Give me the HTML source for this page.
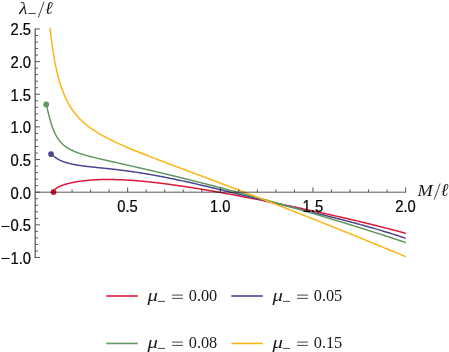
<!DOCTYPE html>
<html><head><meta charset="utf-8"><title>plot</title>
<style>
html,body{margin:0;padding:0;background:#fff;}
svg{display:block}
text{fill:#1a1a1a;}
.tk{font-family:"Liberation Sans",sans-serif;font-size:16px;fill:#000;stroke:#000;stroke-width:0.22px;}
.mn{font-family:"Liberation Serif",serif;font-size:19px;stroke:none;}
.mi{font-family:"Liberation Serif",serif;font-style:italic;}
.rm{font-family:"Liberation Serif",serif;font-size:16.3px;}
</style></head><body>
<svg width="449" height="352" viewBox="0 0 449 352">
<defs><clipPath id="cp"><rect x="0" y="27.85" width="405.75" height="231"/></clipPath></defs>
<rect width="449" height="352" fill="#fff"/>
<path d="M53.50,192.10 L53.50,191.99 L53.51,191.89 L53.52,191.78 L53.54,191.67 L53.56,191.57 L53.58,191.46 L53.61,191.35 L53.64,191.25 L53.68,191.14 L53.72,191.03 L53.77,190.92 L53.82,190.82 L53.88,190.71 L53.94,190.60 L54.00,190.49 L54.07,190.39 L54.14,190.28 L54.22,190.17 L54.30,190.06 L54.39,189.96 L54.48,189.85 L54.58,189.74 L54.68,189.63 L54.78,189.53 L54.89,189.42 L55.01,189.31 L55.12,189.20 L55.25,189.09 L55.37,188.98 L55.50,188.88 L55.64,188.77 L55.78,188.66 L55.92,188.55 L56.07,188.44 L56.23,188.34 L56.39,188.23 L56.55,188.12 L56.72,188.01 L56.89,187.90 L57.06,187.80 L57.24,187.69 L57.43,187.58 L57.62,187.47 L57.81,187.36 L58.01,187.26 L58.21,187.15 L58.42,187.04 L58.63,186.93 L58.85,186.83 L59.07,186.72 L59.29,186.61 L59.52,186.51 L59.75,186.40 L59.99,186.30 L60.24,186.19 L60.48,186.08 L60.73,185.98 L60.99,185.87 L61.25,185.77 L61.52,185.67 L61.79,185.56 L62.06,185.46 L62.34,185.35 L62.62,185.25 L62.91,185.15 L63.20,185.05 L63.50,184.94 L63.80,184.84 L64.10,184.74 L64.41,184.64 L64.73,184.54 L65.04,184.44 L65.37,184.34 L65.69,184.24 L66.03,184.15 L66.36,184.05 L66.70,183.95 L67.05,183.86 L67.40,183.76 L67.75,183.67 L68.11,183.57 L68.47,183.48 L68.84,183.38 L69.21,183.29 L69.59,183.20 L69.97,183.11 L70.35,183.02 L70.74,182.93 L71.14,182.84 L71.54,182.75 L71.94,182.67 L72.35,182.58 L72.76,182.50 L73.18,182.41 L73.60,182.33 L74.02,182.24 L74.45,182.16 L74.89,182.08 L75.32,182.00 L75.77,181.92 L76.22,181.84 L76.67,181.77 L77.12,181.69 L77.58,181.62 L78.05,181.54 L78.52,181.47 L78.99,181.40 L79.47,181.33 L79.96,181.26 L80.44,181.19 L80.94,181.12 L81.43,181.06 L81.93,180.99 L82.44,180.93 L82.95,180.86 L83.46,180.80 L83.98,180.74 L84.51,180.68 L85.03,180.63 L85.57,180.57 L86.10,180.51 L86.64,180.46 L87.19,180.41 L87.74,180.36 L88.29,180.31 L88.85,180.26 L89.42,180.21 L89.98,180.17 L90.56,180.12 L91.13,180.08 L91.71,180.04 L92.30,180.00 L92.89,179.96 L93.48,179.92 L94.08,179.89 L94.69,179.85 L95.29,179.82 L95.91,179.79 L96.52,179.76 L97.14,179.73 L97.77,179.71 L98.40,179.68 L99.03,179.66 L99.67,179.64 L100.32,179.62 L100.97,179.60 L101.62,179.58 L102.27,179.57 L102.94,179.56 L103.60,179.54 L104.27,179.53 L104.95,179.53 L105.63,179.52 L106.31,179.51 L107.00,179.51 L107.69,179.51 L108.39,179.51 L109.09,179.51 L109.79,179.52 L110.50,179.52 L111.22,179.53 L111.94,179.54 L112.66,179.55 L113.39,179.56 L114.12,179.58 L114.86,179.59 L115.60,179.61 L116.35,179.63 L117.10,179.65 L117.85,179.68 L118.61,179.70 L119.38,179.73 L120.14,179.76 L120.92,179.79 L121.69,179.82 L122.48,179.86 L123.26,179.90 L124.05,179.94 L124.85,179.98 L125.65,180.02 L126.45,180.06 L127.26,180.11 L128.07,180.16 L128.89,180.21 L129.71,180.26 L130.54,180.31 L131.37,180.37 L132.20,180.43 L133.04,180.49 L133.89,180.55 L134.73,180.61 L135.59,180.68 L136.44,180.75 L137.31,180.81 L138.17,180.89 L139.04,180.96 L139.92,181.03 L140.80,181.11 L141.68,181.19 L142.57,181.27 L143.46,181.36 L144.36,181.44 L145.26,181.53 L146.17,181.62 L147.08,181.71 L147.99,181.80 L148.91,181.89 L149.84,181.99 L150.77,182.09 L151.70,182.19 L152.64,182.29 L153.58,182.40 L154.53,182.50 L155.48,182.61 L156.43,182.72 L157.39,182.84 L158.36,182.95 L159.32,183.07 L160.30,183.18 L161.27,183.30 L162.26,183.43 L163.24,183.55 L164.23,183.68 L165.23,183.80 L166.23,183.93 L167.23,184.06 L168.24,184.20 L169.26,184.33 L170.27,184.47 L171.29,184.61 L172.32,184.75 L173.35,184.89 L174.39,185.04 L175.43,185.18 L176.47,185.33 L177.52,185.48 L178.57,185.64 L179.63,185.79 L180.69,185.95 L181.76,186.10 L182.83,186.26 L183.91,186.43 L184.99,186.59 L186.07,186.75 L187.16,186.92 L188.25,187.09 L189.35,187.26 L190.45,187.43 L191.56,187.61 L192.67,187.78 L193.79,187.96 L194.91,188.14 L196.03,188.32 L197.16,188.51 L198.29,188.69 L199.43,188.88 L200.57,189.07 L201.72,189.26 L202.87,189.45 L204.03,189.64 L205.19,189.84 L206.35,190.04 L207.52,190.24 L208.70,190.44 L209.87,190.64 L211.06,190.84 L212.24,191.05 L213.43,191.26 L214.63,191.47 L215.83,191.68 L217.03,191.89 L218.24,192.11 L219.46,192.32 L220.68,192.54 L221.90,192.76 L223.12,192.98 L224.36,193.20 L225.59,193.43 L226.83,193.65 L228.08,193.88 L229.33,194.11 L230.58,194.34 L231.84,194.57 L233.10,194.81 L234.37,195.04 L235.64,195.28 L236.91,195.52 L238.20,195.76 L239.48,196.00 L240.77,196.25 L242.06,196.49 L243.36,196.74 L244.66,196.99 L245.97,197.24 L247.28,197.49 L248.60,197.75 L249.92,198.00 L251.24,198.26 L252.57,198.52 L253.91,198.78 L255.25,199.04 L256.59,199.30 L257.94,199.57 L259.29,199.83 L260.64,200.10 L262.00,200.37 L263.37,200.64 L264.74,200.91 L266.11,201.19 L267.49,201.46 L268.87,201.74 L270.26,202.02 L271.65,202.30 L273.05,202.58 L274.45,202.87 L275.85,203.15 L277.26,203.44 L278.68,203.73 L280.10,204.02 L281.52,204.31 L282.95,204.61 L284.38,204.90 L285.81,205.20 L287.25,205.50 L288.70,205.80 L290.15,206.10 L291.60,206.40 L293.06,206.71 L294.53,207.02 L295.99,207.32 L297.46,207.63 L298.94,207.95 L300.42,208.26 L301.91,208.58 L303.40,208.89 L304.89,209.21 L306.39,209.53 L307.89,209.86 L309.40,210.18 L310.91,210.51 L312.43,210.84 L313.95,211.17 L315.47,211.50 L317.00,211.83 L318.54,212.17 L320.08,212.51 L321.62,212.85 L323.17,213.19 L324.72,213.53 L326.28,213.88 L327.84,214.23 L329.40,214.58 L330.97,214.93 L332.55,215.28 L334.13,215.64 L335.71,216.00 L337.30,216.36 L338.89,216.72 L340.49,217.09 L342.09,217.45 L343.69,217.82 L345.30,218.19 L346.92,218.57 L348.53,218.95 L350.16,219.32 L351.79,219.71 L353.42,220.09 L355.05,220.48 L356.70,220.87 L358.34,221.26 L359.99,221.65 L361.65,222.05 L363.30,222.45 L364.97,222.85 L366.64,223.26 L368.31,223.67 L369.99,224.08 L371.67,224.49 L373.35,224.91 L375.04,225.33 L376.74,225.75 L378.44,226.18 L380.14,226.61 L381.85,227.04 L383.56,227.48 L385.28,227.92 L387.00,228.36 L388.72,228.80 L390.45,229.25 L392.19,229.71 L393.93,230.16 L395.67,230.62 L397.42,231.09 L399.17,231.55 L400.93,232.03 L402.69,232.50 L404.46,232.98 L406.23,233.46 L408.00,233.95" fill="none" stroke="#DE1A38" stroke-width="1.5" stroke-linejoin="round" clip-path="url(#cp)"/>
<circle cx="53.5" cy="192.1" r="2.9" fill="#DE1A38"/>
<path d="M51.05,154.05 L51.05,154.01 L51.06,153.97 L51.07,153.95 L51.09,153.93 L51.11,153.92 L51.13,153.92 L51.16,153.93 L51.19,153.94 L51.23,153.96 L51.27,153.99 L51.32,154.03 L51.37,154.07 L51.43,154.12 L51.49,154.17 L51.55,154.23 L51.62,154.29 L51.70,154.36 L51.78,154.44 L51.86,154.52 L51.95,154.60 L52.04,154.69 L52.14,154.78 L52.24,154.88 L52.34,154.98 L52.45,155.09 L52.57,155.19 L52.68,155.30 L52.81,155.42 L52.94,155.53 L53.07,155.65 L53.20,155.77 L53.35,155.90 L53.49,156.02 L53.64,156.15 L53.80,156.28 L53.96,156.41 L54.12,156.54 L54.29,156.68 L54.46,156.81 L54.64,156.95 L54.82,157.09 L55.01,157.23 L55.20,157.37 L55.39,157.51 L55.59,157.65 L55.79,157.79 L56.00,157.93 L56.22,158.07 L56.43,158.21 L56.66,158.36 L56.88,158.50 L57.11,158.64 L57.35,158.78 L57.59,158.92 L57.83,159.07 L58.08,159.21 L58.33,159.35 L58.59,159.49 L58.85,159.63 L59.12,159.77 L59.39,159.90 L59.67,160.04 L59.95,160.18 L60.23,160.31 L60.52,160.45 L60.82,160.58 L61.11,160.71 L61.42,160.85 L61.72,160.98 L62.04,161.11 L62.35,161.23 L62.67,161.36 L63.00,161.49 L63.33,161.61 L63.66,161.74 L64.00,161.86 L64.34,161.98 L64.69,162.10 L65.04,162.22 L65.40,162.33 L65.76,162.45 L66.13,162.56 L66.50,162.68 L66.87,162.79 L67.25,162.90 L67.63,163.01 L68.02,163.11 L68.41,163.22 L68.81,163.32 L69.21,163.43 L69.62,163.53 L70.03,163.63 L70.44,163.73 L70.86,163.83 L71.29,163.92 L71.71,164.02 L72.15,164.11 L72.58,164.21 L73.03,164.30 L73.47,164.39 L73.92,164.48 L74.38,164.56 L74.84,164.65 L75.30,164.74 L75.77,164.82 L76.24,164.90 L76.72,164.99 L77.20,165.07 L77.69,165.15 L78.18,165.23 L78.68,165.30 L79.18,165.38 L79.68,165.46 L80.19,165.53 L80.70,165.61 L81.22,165.68 L81.74,165.75 L82.27,165.82 L82.80,165.90 L83.34,165.97 L83.88,166.04 L84.42,166.11 L84.97,166.18 L85.53,166.24 L86.08,166.31 L86.65,166.38 L87.21,166.45 L87.79,166.51 L88.36,166.58 L88.94,166.64 L89.53,166.71 L90.12,166.78 L90.71,166.84 L91.31,166.91 L91.91,166.97 L92.52,167.04 L93.13,167.10 L93.75,167.17 L94.37,167.23 L95.00,167.30 L95.63,167.36 L96.26,167.43 L96.90,167.50 L97.54,167.56 L98.19,167.63 L98.84,167.70 L99.50,167.76 L100.16,167.83 L100.83,167.90 L101.50,167.97 L102.17,168.04 L102.85,168.11 L103.54,168.18 L104.22,168.25 L104.92,168.32 L105.61,168.40 L106.32,168.47 L107.02,168.55 L107.73,168.62 L108.45,168.70 L109.17,168.78 L109.89,168.85 L110.62,168.93 L111.35,169.02 L112.09,169.10 L112.83,169.18 L113.58,169.26 L114.33,169.35 L115.09,169.44 L115.85,169.52 L116.61,169.61 L117.38,169.71 L118.15,169.80 L118.93,169.89 L119.72,169.99 L120.50,170.08 L121.29,170.18 L122.09,170.28 L122.89,170.38 L123.70,170.49 L124.50,170.59 L125.32,170.70 L126.14,170.81 L126.96,170.92 L127.79,171.03 L128.62,171.14 L129.46,171.26 L130.30,171.37 L131.14,171.49 L131.99,171.61 L132.85,171.74 L133.70,171.86 L134.57,171.99 L135.43,172.12 L136.31,172.25 L137.18,172.38 L138.06,172.51 L138.95,172.65 L139.84,172.79 L140.74,172.93 L141.63,173.07 L142.54,173.22 L143.45,173.37 L144.36,173.52 L145.28,173.67 L146.20,173.82 L147.12,173.98 L148.05,174.14 L148.99,174.30 L149.93,174.46 L150.87,174.63 L151.82,174.79 L152.77,174.96 L153.73,175.13 L154.69,175.31 L155.66,175.48 L156.63,175.66 L157.61,175.84 L158.58,176.03 L159.57,176.21 L160.56,176.40 L161.55,176.59 L162.55,176.78 L163.55,176.98 L164.56,177.17 L165.57,177.37 L166.58,177.58 L167.61,177.78 L168.63,177.98 L169.66,178.19 L170.69,178.40 L171.73,178.62 L172.77,178.83 L173.82,179.05 L174.87,179.27 L175.93,179.49 L176.99,179.71 L178.05,179.94 L179.12,180.17 L180.20,180.40 L181.28,180.63 L182.36,180.87 L183.45,181.11 L184.54,181.34 L185.63,181.59 L186.73,181.83 L187.84,182.08 L188.95,182.32 L190.06,182.57 L191.18,182.83 L192.31,183.08 L193.43,183.34 L194.57,183.59 L195.70,183.85 L196.84,184.12 L197.99,184.38 L199.14,184.65 L200.30,184.91 L201.45,185.18 L202.62,185.46 L203.79,185.73 L204.96,186.01 L206.14,186.28 L207.32,186.56 L208.50,186.84 L209.69,187.13 L210.89,187.41 L212.09,187.70 L213.29,187.99 L214.50,188.28 L215.71,188.57 L216.93,188.86 L218.15,189.15 L219.38,189.45 L220.61,189.75 L221.85,190.05 L223.09,190.35 L224.33,190.65 L225.58,190.96 L226.83,191.26 L228.09,191.57 L229.35,191.88 L230.62,192.19 L231.89,192.50 L233.17,192.81 L234.45,193.13 L235.73,193.44 L237.02,193.76 L238.32,194.08 L239.61,194.40 L240.92,194.72 L242.22,195.04 L243.53,195.36 L244.85,195.68 L246.17,196.01 L247.50,196.34 L248.83,196.66 L250.16,196.99 L251.50,197.32 L252.84,197.66 L254.19,197.99 L255.54,198.32 L256.90,198.66 L258.26,198.99 L259.62,199.33 L260.99,199.67 L262.37,200.00 L263.75,200.34 L265.13,200.68 L266.52,201.03 L267.91,201.37 L269.31,201.71 L270.71,202.06 L272.12,202.40 L273.53,202.75 L274.94,203.10 L276.36,203.45 L277.78,203.80 L279.21,204.15 L280.64,204.50 L282.08,204.85 L283.52,205.21 L284.97,205.56 L286.42,205.92 L287.88,206.27 L289.34,206.63 L290.80,206.99 L292.27,207.35 L293.74,207.71 L295.22,208.07 L296.70,208.44 L298.19,208.80 L299.68,209.17 L301.17,209.54 L302.67,209.90 L304.18,210.27 L305.69,210.65 L307.20,211.02 L308.72,211.39 L310.24,211.77 L311.77,212.14 L313.30,212.52 L314.83,212.90 L316.38,213.28 L317.92,213.66 L319.47,214.05 L321.02,214.43 L322.58,214.82 L324.14,215.21 L325.71,215.60 L327.28,216.00 L328.86,216.39 L330.44,216.79 L332.03,217.19 L333.61,217.59 L335.21,218.00 L336.81,218.40 L338.41,218.81 L340.02,219.22 L341.63,219.64 L343.25,220.05 L344.87,220.47 L346.49,220.90 L348.12,221.32 L349.76,221.75 L351.40,222.18 L353.04,222.62 L354.69,223.06 L356.34,223.50 L358.00,223.95 L359.66,224.40 L361.33,224.85 L363.00,225.31 L364.67,225.77 L366.35,226.23 L368.03,226.70 L369.72,227.18 L371.42,227.66 L373.11,228.14 L374.81,228.63 L376.52,229.13 L378.23,229.63 L379.95,230.14 L381.67,230.65 L383.39,231.16 L385.12,231.69 L386.85,232.22 L388.59,232.75 L390.33,233.30 L392.08,233.85 L393.83,234.40 L395.59,234.97 L397.35,235.54 L399.11,236.12 L400.88,236.70 L402.65,237.30 L404.43,237.90 L406.21,238.51 L408.00,239.13" fill="none" stroke="#4A468D" stroke-width="1.5" stroke-linejoin="round" clip-path="url(#cp)"/>
<circle cx="51.05" cy="154.05" r="2.9" fill="#4A468D"/>
<path d="M46.05,103.93 L46.26,104.67 L46.48,105.46 L46.69,106.29 L46.91,107.16 L47.13,108.06 L47.35,108.97 L47.58,109.90 L47.80,110.84 L48.03,111.79 L48.26,112.74 L48.49,113.69 L48.73,114.63 L48.96,115.57 L49.20,116.50 L49.44,117.43 L49.69,118.34 L49.93,119.24 L50.18,120.12 L50.43,121.00 L50.68,121.85 L50.93,122.70 L51.18,123.52 L51.44,124.33 L51.70,125.12 L51.96,125.90 L52.23,126.66 L52.49,127.40 L52.76,128.13 L53.03,128.84 L53.30,129.53 L53.57,130.21 L53.85,130.86 L54.13,131.51 L54.41,132.14 L54.69,132.75 L54.97,133.35 L55.26,133.93 L55.55,134.49 L55.84,135.05 L56.13,135.59 L56.42,136.11 L56.72,136.62 L57.02,137.12 L57.32,137.61 L57.62,138.08 L57.92,138.54 L58.23,138.99 L58.54,139.43 L58.85,139.86 L59.16,140.27 L59.48,140.68 L59.79,141.08 L60.11,141.46 L60.43,141.84 L60.76,142.20 L61.08,142.56 L61.41,142.91 L61.74,143.25 L62.07,143.58 L62.40,143.91 L62.74,144.23 L63.08,144.53 L63.42,144.84 L63.76,145.13 L64.10,145.42 L64.45,145.70 L64.79,145.98 L65.14,146.25 L65.50,146.51 L65.85,146.77 L66.21,147.02 L66.56,147.27 L66.92,147.51 L67.29,147.74 L67.65,147.98 L68.02,148.20 L68.39,148.43 L68.76,148.64 L69.13,148.86 L69.50,149.07 L69.88,149.27 L70.26,149.48 L70.64,149.67 L71.02,149.87 L71.41,150.06 L71.79,150.25 L72.18,150.44 L72.57,150.62 L72.97,150.80 L73.36,150.97 L73.76,151.15 L74.16,151.32 L74.56,151.49 L74.96,151.65 L75.37,151.82 L75.78,151.98 L76.19,152.14 L76.60,152.30 L77.01,152.45 L77.43,152.61 L77.85,152.76 L78.27,152.91 L78.69,153.06 L79.11,153.21 L79.54,153.35 L79.97,153.50 L80.40,153.64 L80.83,153.78 L81.27,153.92 L81.70,154.06 L82.14,154.20 L82.58,154.33 L83.02,154.47 L83.47,154.60 L83.92,154.74 L84.36,154.87 L84.82,155.00 L85.27,155.13 L85.72,155.26 L86.18,155.39 L86.64,155.52 L87.10,155.65 L87.56,155.77 L88.03,155.90 L88.50,156.03 L88.97,156.15 L89.44,156.28 L89.91,156.40 L90.39,156.53 L90.87,156.65 L91.35,156.78 L91.83,156.90 L92.31,157.02 L92.80,157.14 L93.29,157.27 L93.78,157.39 L94.27,157.51 L94.76,157.63 L95.26,157.76 L95.76,157.88 L96.26,158.00 L96.76,158.12 L97.26,158.24 L97.77,158.36 L98.28,158.49 L98.79,158.61 L99.30,158.73 L99.82,158.85 L100.34,158.97 L100.85,159.10 L101.38,159.22 L101.90,159.34 L102.42,159.46 L102.95,159.58 L103.48,159.71 L104.01,159.83 L104.55,159.95 L105.08,160.08 L105.62,160.20 L106.16,160.32 L106.70,160.45 L107.24,160.57 L107.79,160.70 L108.34,160.82 L108.89,160.95 L109.44,161.07 L109.99,161.20 L110.55,161.32 L111.11,161.45 L111.67,161.58 L112.23,161.70 L112.80,161.83 L113.36,161.96 L113.93,162.09 L114.50,162.21 L115.07,162.34 L115.65,162.47 L116.23,162.60 L116.80,162.73 L117.39,162.86 L117.97,162.99 L118.55,163.13 L119.14,163.26 L119.73,163.39 L120.32,163.52 L120.91,163.66 L121.51,163.79 L122.11,163.93 L122.71,164.06 L123.31,164.20 L123.91,164.33 L124.52,164.47 L125.13,164.61 L125.73,164.74 L126.35,164.88 L126.96,165.02 L127.58,165.16 L128.19,165.30 L128.81,165.44 L129.44,165.58 L130.06,165.72 L130.69,165.86 L131.32,166.01 L131.95,166.15 L132.58,166.29 L133.21,166.44 L133.85,166.58 L134.49,166.73 L135.13,166.87 L135.77,167.02 L136.42,167.17 L137.06,167.31 L137.71,167.46 L138.36,167.61 L139.02,167.76 L139.67,167.91 L140.33,168.06 L140.99,168.21 L141.65,168.37 L142.31,168.52 L142.98,168.67 L143.65,168.83 L144.32,168.98 L144.99,169.14 L145.66,169.29 L146.34,169.45 L147.02,169.60 L147.70,169.76 L148.38,169.92 L149.06,170.08 L149.75,170.24 L150.44,170.40 L151.13,170.56 L151.82,170.72 L152.51,170.89 L153.21,171.05 L153.91,171.21 L154.61,171.38 L155.31,171.54 L156.02,171.71 L156.72,171.88 L157.43,172.04 L158.14,172.21 L158.86,172.38 L159.57,172.55 L160.29,172.72 L161.01,172.89 L161.73,173.06 L162.45,173.23 L163.18,173.41 L163.90,173.58 L164.63,173.75 L165.37,173.93 L166.10,174.10 L166.83,174.28 L167.57,174.46 L168.31,174.64 L169.05,174.81 L169.80,174.99 L170.54,175.17 L171.29,175.35 L172.04,175.54 L172.79,175.72 L173.55,175.90 L174.30,176.08 L175.06,176.27 L175.82,176.45 L176.59,176.64 L177.35,176.83 L178.12,177.01 L178.89,177.20 L179.66,177.39 L180.43,177.58 L181.20,177.77 L181.98,177.96 L182.76,178.15 L183.54,178.35 L184.32,178.54 L185.11,178.73 L185.90,178.93 L186.69,179.12 L187.48,179.32 L188.27,179.52 L189.07,179.71 L189.86,179.91 L190.66,180.11 L191.47,180.31 L192.27,180.51 L193.07,180.71 L193.88,180.92 L194.69,181.12 L195.50,181.32 L196.32,181.53 L197.13,181.73 L197.95,181.94 L198.77,182.15 L199.60,182.36 L200.42,182.56 L201.25,182.77 L202.07,182.98 L202.91,183.20 L203.74,183.41 L204.57,183.62 L205.41,183.83 L206.25,184.05 L207.09,184.26 L207.93,184.48 L208.78,184.70 L209.62,184.91 L210.47,185.13 L211.32,185.35 L212.18,185.57 L213.03,185.79 L213.89,186.01 L214.75,186.24 L215.61,186.46 L216.48,186.68 L217.34,186.91 L218.21,187.13 L219.08,187.36 L219.95,187.59 L220.82,187.81 L221.70,188.04 L222.58,188.27 L223.46,188.50 L224.34,188.74 L225.22,188.97 L226.11,189.20 L227.00,189.43 L227.89,189.67 L228.78,189.91 L229.68,190.14 L230.57,190.38 L231.47,190.62 L232.37,190.86 L233.27,191.10 L234.18,191.34 L235.09,191.58 L236.00,191.82 L236.91,192.06 L237.82,192.31 L238.73,192.55 L239.65,192.80 L240.57,193.05 L241.49,193.29 L242.42,193.54 L243.34,193.79 L244.27,194.04 L245.20,194.29 L246.13,194.55 L247.06,194.80 L248.00,195.05 L248.94,195.31 L249.88,195.56 L250.82,195.82 L251.76,196.08 L252.71,196.34 L253.66,196.59 L254.61,196.85 L255.56,197.12 L256.51,197.38 L257.47,197.64 L258.43,197.90 L259.39,198.17 L260.35,198.43 L261.32,198.70 L262.28,198.97 L263.25,199.24 L264.22,199.51 L265.20,199.78 L266.17,200.05 L267.15,200.32 L268.13,200.59 L269.11,200.87 L270.09,201.14 L271.08,201.42 L272.06,201.69 L273.05,201.97 L274.05,202.25 L275.04,202.53 L276.03,202.81 L277.03,203.09 L278.03,203.37 L279.03,203.66 L280.04,203.94 L281.04,204.22 L282.05,204.51 L283.06,204.80 L284.07,205.09 L285.09,205.38 L286.10,205.67 L287.12,205.96 L288.14,206.25 L289.17,206.54 L290.19,206.83 L291.22,207.13 L292.24,207.43 L293.28,207.72 L294.31,208.02 L295.34,208.32 L296.38,208.62 L297.42,208.92 L298.46,209.22 L299.50,209.52 L300.55,209.83 L301.60,210.13 L302.64,210.44 L303.70,210.75 L304.75,211.05 L305.80,211.36 L306.86,211.67 L307.92,211.98 L308.98,212.30 L310.05,212.61 L311.11,212.92 L312.18,213.24 L313.25,213.55 L314.32,213.87 L315.40,214.19 L316.47,214.51 L317.55,214.83 L318.63,215.15 L319.71,215.47 L320.80,215.80 L321.88,216.12 L322.97,216.45 L324.06,216.77 L325.15,217.10 L326.25,217.43 L327.35,217.76 L328.44,218.09 L329.55,218.42 L330.65,218.75 L331.75,219.09 L332.86,219.42 L333.97,219.76 L335.08,220.10 L336.19,220.44 L337.31,220.78 L338.43,221.12 L339.55,221.46 L340.67,221.80 L341.79,222.14 L342.92,222.49 L344.04,222.84 L345.17,223.18 L346.31,223.53 L347.44,223.88 L348.58,224.23 L349.71,224.58 L350.85,224.94 L352.00,225.29 L353.14,225.65 L354.29,226.00 L355.43,226.36 L356.58,226.72 L357.74,227.08 L358.89,227.44 L360.05,227.80 L361.21,228.17 L362.37,228.53 L363.53,228.90 L364.69,229.26 L365.86,229.63 L367.03,230.00 L368.20,230.37 L369.37,230.74 L370.55,231.12 L371.73,231.49 L372.91,231.86 L374.09,232.24 L375.27,232.62 L376.46,233.00 L377.64,233.38 L378.83,233.76 L380.02,234.14 L381.22,234.52 L382.41,234.91 L383.61,235.30 L384.81,235.68 L386.01,236.07 L387.22,236.46 L388.42,236.85 L389.63,237.24 L390.84,237.64 L392.05,238.03 L393.27,238.43 L394.48,238.83 L395.70,239.22 L396.92,239.62 L398.15,240.03 L399.37,240.43 L400.60,240.83 L401.83,241.24 L403.06,241.64 L404.29,242.05 L405.52,242.46 L406.76,242.87 L408.00,243.28" fill="none" stroke="#629662" stroke-width="1.5" stroke-linejoin="round" clip-path="url(#cp)"/>
<circle cx="46.2" cy="104.4" r="2.9" fill="#629662"/>
<path d="M49.95,27.00 L50.19,29.23 L50.43,31.40 L50.67,33.52 L50.92,35.59 L51.16,37.61 L51.41,39.59 L51.66,41.51 L51.91,43.40 L52.17,45.24 L52.42,47.04 L52.68,48.79 L52.94,50.51 L53.20,52.19 L53.46,53.83 L53.73,55.44 L54.00,57.01 L54.27,58.55 L54.54,60.05 L54.81,61.52 L55.09,62.96 L55.36,64.36 L55.64,65.74 L55.92,67.09 L56.20,68.41 L56.49,69.70 L56.78,70.97 L57.06,72.21 L57.35,73.42 L57.65,74.61 L57.94,75.77 L58.24,76.91 L58.54,78.03 L58.84,79.13 L59.14,80.20 L59.44,81.26 L59.75,82.29 L60.05,83.30 L60.36,84.30 L60.68,85.27 L60.99,86.23 L61.30,87.17 L61.62,88.09 L61.94,88.99 L62.26,89.88 L62.59,90.75 L62.91,91.60 L63.24,92.44 L63.57,93.27 L63.90,94.08 L64.23,94.87 L64.56,95.65 L64.90,96.42 L65.24,97.17 L65.58,97.91 L65.92,98.64 L66.27,99.36 L66.61,100.06 L66.96,100.76 L67.31,101.44 L67.66,102.11 L68.02,102.77 L68.37,103.41 L68.73,104.05 L69.09,104.68 L69.45,105.30 L69.81,105.91 L70.18,106.51 L70.55,107.10 L70.92,107.68 L71.29,108.25 L71.66,108.81 L72.04,109.37 L72.41,109.92 L72.79,110.46 L73.17,110.99 L73.56,111.51 L73.94,112.03 L74.33,112.54 L74.72,113.04 L75.11,113.54 L75.50,114.03 L75.89,114.51 L76.29,114.99 L76.69,115.46 L77.09,115.92 L77.49,116.38 L77.89,116.83 L78.30,117.28 L78.71,117.72 L79.12,118.16 L79.53,118.59 L79.94,119.01 L80.36,119.43 L80.77,119.85 L81.19,120.26 L81.61,120.67 L82.04,121.07 L82.46,121.47 L82.89,121.86 L83.32,122.25 L83.75,122.63 L84.18,123.01 L84.62,123.39 L85.05,123.76 L85.49,124.13 L85.93,124.50 L86.37,124.86 L86.82,125.22 L87.26,125.58 L87.71,125.93 L88.16,126.28 L88.62,126.62 L89.07,126.97 L89.52,127.31 L89.98,127.64 L90.44,127.98 L90.90,128.31 L91.37,128.64 L91.83,128.96 L92.30,129.29 L92.77,129.61 L93.24,129.93 L93.71,130.24 L94.19,130.56 L94.67,130.87 L95.15,131.18 L95.63,131.49 L96.11,131.79 L96.59,132.10 L97.08,132.40 L97.57,132.70 L98.06,132.99 L98.55,133.29 L99.05,133.58 L99.54,133.88 L100.04,134.17 L100.54,134.46 L101.04,134.75 L101.55,135.03 L102.05,135.32 L102.56,135.60 L103.07,135.88 L103.58,136.16 L104.10,136.44 L104.61,136.72 L105.13,137.00 L105.65,137.27 L106.17,137.55 L106.69,137.82 L107.22,138.09 L107.74,138.37 L108.27,138.64 L108.80,138.91 L109.34,139.17 L109.87,139.44 L110.41,139.71 L110.95,139.98 L111.49,140.24 L112.03,140.50 L112.57,140.77 L113.12,141.03 L113.67,141.29 L114.22,141.56 L114.77,141.82 L115.32,142.08 L115.88,142.34 L116.44,142.60 L117.00,142.85 L117.56,143.11 L118.12,143.37 L118.69,143.63 L119.26,143.88 L119.83,144.14 L120.40,144.40 L120.97,144.65 L121.55,144.91 L122.12,145.16 L122.70,145.42 L123.28,145.67 L123.87,145.93 L124.45,146.18 L125.04,146.43 L125.63,146.69 L126.22,146.94 L126.81,147.19 L127.40,147.45 L128.00,147.70 L128.60,147.95 L129.20,148.21 L129.80,148.46 L130.40,148.71 L131.01,148.96 L131.62,149.22 L132.23,149.47 L132.84,149.72 L133.45,149.97 L134.07,150.23 L134.69,150.48 L135.30,150.73 L135.93,150.99 L136.55,151.24 L137.17,151.49 L137.80,151.74 L138.43,152.00 L139.06,152.25 L139.69,152.51 L140.33,152.76 L140.97,153.01 L141.60,153.27 L142.25,153.52 L142.89,153.78 L143.53,154.03 L144.18,154.29 L144.83,154.54 L145.48,154.80 L146.13,155.05 L146.78,155.31 L147.44,155.57 L148.10,155.82 L148.76,156.08 L149.42,156.34 L150.08,156.60 L150.75,156.85 L151.41,157.11 L152.08,157.37 L152.76,157.63 L153.43,157.89 L154.10,158.15 L154.78,158.41 L155.46,158.67 L156.14,158.94 L156.82,159.20 L157.51,159.46 L158.20,159.72 L158.88,159.99 L159.58,160.25 L160.27,160.51 L160.96,160.78 L161.66,161.04 L162.36,161.31 L163.06,161.58 L163.76,161.84 L164.46,162.11 L165.17,162.38 L165.88,162.64 L166.59,162.91 L167.30,163.18 L168.01,163.45 L168.73,163.72 L169.45,163.99 L170.16,164.27 L170.89,164.54 L171.61,164.81 L172.33,165.08 L173.06,165.36 L173.79,165.63 L174.52,165.91 L175.25,166.18 L175.99,166.46 L176.73,166.74 L177.47,167.02 L178.21,167.29 L178.95,167.57 L179.69,167.85 L180.44,168.13 L181.19,168.41 L181.94,168.69 L182.69,168.98 L183.44,169.26 L184.20,169.54 L184.96,169.83 L185.72,170.11 L186.48,170.40 L187.24,170.68 L188.01,170.97 L188.78,171.26 L189.55,171.55 L190.32,171.84 L191.09,172.13 L191.87,172.42 L192.64,172.71 L193.42,173.00 L194.20,173.29 L194.99,173.59 L195.77,173.88 L196.56,174.18 L197.35,174.47 L198.14,174.77 L198.93,175.07 L199.72,175.36 L200.52,175.66 L201.32,175.96 L202.12,176.26 L202.92,176.56 L203.73,176.87 L204.53,177.17 L205.34,177.47 L206.15,177.78 L206.96,178.08 L207.78,178.39 L208.59,178.69 L209.41,179.00 L210.23,179.31 L211.05,179.62 L211.87,179.93 L212.70,180.24 L213.53,180.55 L214.35,180.86 L215.19,181.17 L216.02,181.49 L216.85,181.80 L217.69,182.12 L218.53,182.44 L219.37,182.75 L220.21,183.07 L221.06,183.39 L221.90,183.71 L222.75,184.03 L223.60,184.35 L224.45,184.67 L225.31,185.00 L226.16,185.32 L227.02,185.64 L227.88,185.97 L228.74,186.30 L229.61,186.62 L230.47,186.95 L231.34,187.28 L232.21,187.61 L233.08,187.94 L233.96,188.27 L234.83,188.61 L235.71,188.94 L236.59,189.27 L237.47,189.61 L238.35,189.95 L239.24,190.28 L240.12,190.62 L241.01,190.96 L241.90,191.30 L242.80,191.64 L243.69,191.98 L244.59,192.32 L245.48,192.67 L246.39,193.01 L247.29,193.36 L248.19,193.70 L249.10,194.05 L250.01,194.40 L250.92,194.74 L251.83,195.09 L252.74,195.44 L253.66,195.80 L254.57,196.15 L255.49,196.50 L256.42,196.86 L257.34,197.21 L258.26,197.57 L259.19,197.92 L260.12,198.28 L261.05,198.64 L261.98,199.00 L262.92,199.36 L263.86,199.72 L264.80,200.08 L265.74,200.45 L266.68,200.81 L267.62,201.18 L268.57,201.54 L269.52,201.91 L270.47,202.28 L271.42,202.65 L272.38,203.02 L273.33,203.39 L274.29,203.76 L275.25,204.13 L276.21,204.51 L277.18,204.88 L278.14,205.26 L279.11,205.64 L280.08,206.01 L281.05,206.39 L282.02,206.77 L283.00,207.15 L283.98,207.53 L284.96,207.92 L285.94,208.30 L286.92,208.68 L287.90,209.07 L288.89,209.45 L289.88,209.84 L290.87,210.23 L291.86,210.62 L292.86,211.01 L293.85,211.40 L294.85,211.79 L295.85,212.19 L296.86,212.58 L297.86,212.98 L298.87,213.37 L299.87,213.77 L300.88,214.17 L301.90,214.57 L302.91,214.97 L303.93,215.37 L304.94,215.77 L305.96,216.17 L306.98,216.58 L308.01,216.98 L309.03,217.39 L310.06,217.79 L311.09,218.20 L312.12,218.61 L313.15,219.02 L314.19,219.43 L315.23,219.84 L316.27,220.26 L317.31,220.67 L318.35,221.08 L319.39,221.50 L320.44,221.92 L321.49,222.33 L322.54,222.75 L323.59,223.17 L324.65,223.59 L325.70,224.02 L326.76,224.44 L327.82,224.86 L328.88,225.29 L329.95,225.71 L331.01,226.14 L332.08,226.57 L333.15,227.00 L334.22,227.43 L335.29,227.86 L336.37,228.29 L337.45,228.72 L338.53,229.16 L339.61,229.59 L340.69,230.03 L341.78,230.47 L342.86,230.90 L343.95,231.34 L345.04,231.78 L346.13,232.23 L347.23,232.67 L348.33,233.11 L349.42,233.56 L350.52,234.00 L351.63,234.45 L352.73,234.89 L353.84,235.34 L354.95,235.79 L356.06,236.24 L357.17,236.69 L358.28,237.15 L359.40,237.60 L360.52,238.06 L361.64,238.51 L362.76,238.97 L363.88,239.43 L365.01,239.88 L366.13,240.34 L367.26,240.81 L368.39,241.27 L369.53,241.73 L370.66,242.19 L371.80,242.66 L372.94,243.13 L374.08,243.59 L375.22,244.06 L376.37,244.53 L377.51,245.00 L378.66,245.47 L379.81,245.94 L380.96,246.42 L382.12,246.89 L383.27,247.37 L384.43,247.84 L385.59,248.32 L386.75,248.80 L387.92,249.28 L389.08,249.76 L390.25,250.24 L391.42,250.73 L392.59,251.21 L393.77,251.70 L394.94,252.18 L396.12,252.67 L397.30,253.16 L398.48,253.65 L399.66,254.14 L400.85,254.63 L402.04,255.12 L403.22,255.61 L404.42,256.11 L405.61,256.61 L406.80,257.10 L408.00,257.60" fill="none" stroke="#FDB515" stroke-width="1.5" stroke-linejoin="round" clip-path="url(#cp)"/>
<g opacity="0.73"><path d="M35.15,28.45V258.00" stroke="#000" stroke-width="1.1" fill="none"/><path d="M35.15,192.2H406.10" stroke="#000" stroke-width="0.9" fill="none"/><path d="M35.15,257.50h4.8 M35.15,250.97h2.8 M35.15,244.44h2.8 M35.15,237.91h2.8 M35.15,231.38h2.8 M35.15,224.85h4.8 M35.15,218.32h2.8 M35.15,211.79h2.8 M35.15,205.26h2.8 M35.15,198.73h2.8 M35.15,192.20h4.8 M35.15,185.67h2.8 M35.15,179.14h2.8 M35.15,172.61h2.8 M35.15,166.08h2.8 M35.15,159.55h4.8 M35.15,153.02h2.8 M35.15,146.49h2.8 M35.15,139.96h2.8 M35.15,133.43h2.8 M35.15,126.90h4.8 M35.15,120.37h2.8 M35.15,113.84h2.8 M35.15,107.31h2.8 M35.15,100.78h2.8 M35.15,94.25h4.8 M35.15,87.72h2.8 M35.15,81.19h2.8 M35.15,74.66h2.8 M35.15,68.13h2.8 M35.15,61.60h4.8 M35.15,55.07h2.8 M35.15,48.54h2.8 M35.15,42.01h2.8 M35.15,35.48h2.8 M35.15,28.95h4.8 M53.53,192.20v-2.8 M72.06,192.20v-2.8 M90.59,192.20v-2.8 M109.12,192.20v-2.8 M127.65,192.20v-4.8 M146.18,192.20v-2.8 M164.71,192.20v-2.8 M183.24,192.20v-2.8 M201.77,192.20v-2.8 M220.30,192.20v-4.8 M238.83,192.20v-2.8 M257.36,192.20v-2.8 M275.89,192.20v-2.8 M294.42,192.20v-2.8 M312.95,192.20v-4.8 M331.48,192.20v-2.8 M350.01,192.20v-2.8 M368.54,192.20v-2.8 M387.07,192.20v-2.8 M405.60,192.20v-4.8" stroke="#000" stroke-width="0.9" fill="none"/></g>
<g opacity="0.999">
<text transform="translate(31.0,35.45) scale(0.925,1)" text-anchor="end" class="tk">2.5</text><text transform="translate(31.0,68.10) scale(0.925,1)" text-anchor="end" class="tk">2.0</text><text transform="translate(31.0,100.75) scale(0.925,1)" text-anchor="end" class="tk">1.5</text><text transform="translate(31.0,133.40) scale(0.925,1)" text-anchor="end" class="tk">1.0</text><text transform="translate(31.0,166.05) scale(0.925,1)" text-anchor="end" class="tk">0.5</text><text transform="translate(31.0,198.70) scale(0.925,1)" text-anchor="end" class="tk">0.0</text><text transform="translate(31.0,231.35) scale(0.925,1)" text-anchor="end" class="tk"><tspan class="mn" dy="1.3">−</tspan><tspan dy="-1.3">0.5</tspan></text><text transform="translate(31.0,264.00) scale(0.925,1)" text-anchor="end" class="tk"><tspan class="mn" dy="1.3">−</tspan><tspan dy="-1.3">1.0</tspan></text><text transform="translate(127.55,211.6) scale(0.925,1)" text-anchor="middle" class="tk">0.5</text><text transform="translate(220.20,211.6) scale(0.925,1)" text-anchor="middle" class="tk">1.0</text><text transform="translate(312.85,211.6) scale(0.925,1)" text-anchor="middle" class="tk">1.5</text><text transform="translate(405.50,211.6) scale(0.925,1)" text-anchor="middle" class="tk">2.0</text>
<text transform="translate(19.1,13.8) scale(1.2,1)" class="mi" font-size="16.3">λ</text><path d="M28.4,13.5h7.3M38.3,17.6L44.1,1.7" stroke="#1a1a1a" stroke-width="0.8" fill="none"/><text transform="translate(44.9,14.3) scale(1.0,1)" class="mi" font-size="18.0">ℓ</text>
<text transform="translate(417.5,195.8) scale(1.08,1)" class="mi" font-size="17.0">M</text><path d="M434.2,199.6L440.1,183.5" stroke="#1a1a1a" stroke-width="0.8" fill="none"/><text transform="translate(440.8,196.2) scale(1.0,1)" class="mi" font-size="18.0">ℓ</text>
<path d="M106.3,296h31.5" stroke="#DE1A38" stroke-width="1.6"/><text transform="translate(147.5,301.3) scale(1.22,1)" class="mi" font-size="17.0">μ</text><path d="M157.8,301.40000000000003h7.2M172.1,295.1h10.8M172.1,298.40000000000003h10.8" stroke="#1a1a1a" stroke-width="0.8" fill="none"/><text x="188.75" y="301.3" class="rm">0.00</text><path d="M231.3,296h31.5" stroke="#4A468D" stroke-width="1.6"/><text transform="translate(272.5,301.3) scale(1.22,1)" class="mi" font-size="17.0">μ</text><path d="M282.8,301.40000000000003h7.2M297.1,295.1h10.8M297.1,298.40000000000003h10.8" stroke="#1a1a1a" stroke-width="0.8" fill="none"/><text x="313.75" y="301.3" class="rm">0.05</text><path d="M106.3,343.45h31.5" stroke="#629662" stroke-width="1.6"/><text transform="translate(147.5,348.3) scale(1.22,1)" class="mi" font-size="17.0">μ</text><path d="M157.8,348.40000000000003h7.2M172.1,342.1h10.8M172.1,345.40000000000003h10.8" stroke="#1a1a1a" stroke-width="0.8" fill="none"/><text x="188.75" y="348.3" class="rm">0.08</text><path d="M231.3,343.45h31.5" stroke="#FDB515" stroke-width="1.6"/><text transform="translate(272.5,348.3) scale(1.22,1)" class="mi" font-size="17.0">μ</text><path d="M282.8,348.40000000000003h7.2M297.1,342.1h10.8M297.1,345.40000000000003h10.8" stroke="#1a1a1a" stroke-width="0.8" fill="none"/><text x="313.75" y="348.3" class="rm">0.15</text>
</g>
</svg>
</body></html>
